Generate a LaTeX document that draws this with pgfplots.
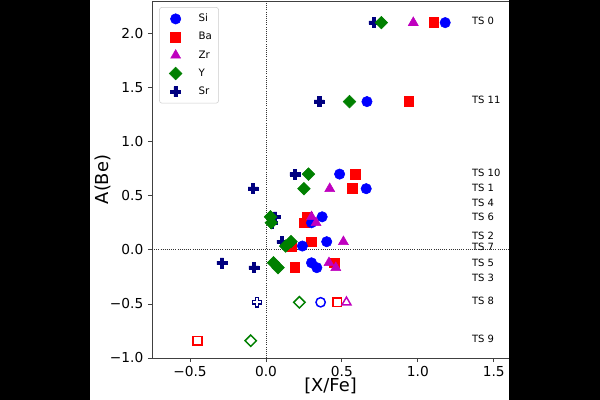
\documentclass[border=0pt]{standalone}
\usepackage{fontspec}
\setmainfont{DejaVu Sans}
\usepackage{pgfplots}
\pgfplotsset{compat=1.18}
\definecolor{siblue}{RGB}{0,0,255}
\definecolor{bared}{RGB}{255,0,0}
\definecolor{zrmag}{RGB}{191,0,191}
\definecolor{ygreen}{RGB}{0,128,0}
\definecolor{srnavy}{RGB}{0,0,128}
\pgfdeclareplotmark{fatplus}{%
  \pgfpathmoveto{\pgfqpoint{-0.34\pgfplotmarksize}{\pgfplotmarksize}}%
  \pgfpathlineto{\pgfqpoint{0.34\pgfplotmarksize}{\pgfplotmarksize}}%
  \pgfpathlineto{\pgfqpoint{0.34\pgfplotmarksize}{0.34\pgfplotmarksize}}%
  \pgfpathlineto{\pgfqpoint{\pgfplotmarksize}{0.34\pgfplotmarksize}}%
  \pgfpathlineto{\pgfqpoint{\pgfplotmarksize}{-0.34\pgfplotmarksize}}%
  \pgfpathlineto{\pgfqpoint{0.34\pgfplotmarksize}{-0.34\pgfplotmarksize}}%
  \pgfpathlineto{\pgfqpoint{0.34\pgfplotmarksize}{-\pgfplotmarksize}}%
  \pgfpathlineto{\pgfqpoint{-0.34\pgfplotmarksize}{-\pgfplotmarksize}}%
  \pgfpathlineto{\pgfqpoint{-0.34\pgfplotmarksize}{-0.34\pgfplotmarksize}}%
  \pgfpathlineto{\pgfqpoint{-\pgfplotmarksize}{-0.34\pgfplotmarksize}}%
  \pgfpathlineto{\pgfqpoint{-\pgfplotmarksize}{0.34\pgfplotmarksize}}%
  \pgfpathlineto{\pgfqpoint{-0.34\pgfplotmarksize}{0.34\pgfplotmarksize}}%
  \pgfpathclose
  \pgfusepathqfillstroke
}
\begin{document}
\begin{tikzpicture}
\fill[white] (-114pt,-31.5pt) rectangle (336pt,268.5pt);
\begin{axis}[
  at={(0pt,0pt)}, anchor=south west,
  scale only axis, width=267.75pt, height=267.75pt,
  xmin=-0.75, xmax=1.6, ymin=-1, ymax=2.3,
  axis line style={black!75, line width=0.6pt},
  tick style={black!75, line width=0.6pt},
  major tick length=3pt, tick align=outside,
  xtick pos=bottom, ytick pos=left,
  xtick={-0.5,0,0.5,1,1.5}, xticklabels={−0.5,0.0,0.5,1.0,1.5},
  ytick={-1,-0.5,0,0.5,1,1.5,2}, yticklabels={−1.0,−0.5,0.0,0.5,1.0,1.5,2.0},
  ticklabel style={font=\fontsize{10.3}{12}\selectfont},
  xlabel={[X/Fe]}, ylabel={A(Be)},
  label style={font=\fontsize{13.4}{16}\selectfont},
  xlabel style={yshift=6pt},
  ylabel style={yshift=-7.5pt},
  legend style={at={(0.02,0.983)}, anchor=north west, font=\fontsize{7.7}{9}\selectfont,
    draw=black!20, rounded corners=2pt, row sep=2.5pt, inner sep=3pt,
    /tikz/every odd column/.append style={column sep=5pt}},
  legend image code/.code={\path (0pt,0pt) (19pt,0pt); \draw[#1] plot coordinates {(9pt,0pt)};},
  legend cell align=left,
]
% dotted reference lines
\addplot[black!80, densely dotted, line width=0.6pt, forget plot] coordinates {(0,-1) (0,2.3)};
\addplot[black!80, densely dotted, line width=0.6pt, forget plot] coordinates {(-0.75,0) (1.6,0)};
% Ba filled
\addplot[only marks, forget plot, mark=square*, mark size=3.7pt, mark options={draw=bared, fill=bared, line width=0.4pt}] coordinates {
(1.105,2.10) (0.94,1.37) (0.59,0.70) (0.57,0.565) (0.27,0.305) (0.25,0.25)
(0.30,0.075) (0.17,0.035) (0.45,-0.12) (0.19,-0.165)};
% Si filled
\addplot[only marks, forget plot, mark=*, mark size=3.9pt, mark options={draw=siblue, fill=siblue, line width=0.4pt}] coordinates {
(1.18,2.10) (0.665,1.37) (0.485,0.70) (0.66,0.565) (0.37,0.305) (0.30,0.25)
(0.40,0.075) (0.24,0.035) (0.30,-0.12) (0.335,-0.165)};
% Zr filled
\addplot[only marks, forget plot, mark=triangle*, mark size=4.3pt, mark options={draw=zrmag, fill=zrmag, line width=0.4pt}] coordinates {
(0.97,2.10) (0.42,0.565) (0.30,0.305) (0.33,0.25) (0.51,0.075) (0.415,-0.12) (0.46,-0.165)};
% Sr filled
\addplot[only marks, forget plot, mark=fatplus, mark size=3.75pt, mark options={draw=srnavy, fill=srnavy, line width=0.4pt}] coordinates {
(0.71,2.10) (0.35,1.37) (0.19,0.70) (-0.085,0.565) (0.06,0.305) (0.04,0.25)
(0.105,0.075) (-0.29,-0.12) (-0.08,-0.165)};
% Y filled
\addplot[only marks, forget plot, mark=square*, mark size=3.36pt, mark options={rotate=45, draw=ygreen, fill=ygreen, line width=0.4pt}] coordinates {
(0.76,2.10) (0.55,1.37) (0.28,0.70) (0.25,0.565) (0.03,0.305) (0.035,0.25)
(0.165,0.075) (0.13,0.035) (0.05,-0.12) (0.08,-0.165)};
% open markers
\addplot[only marks, forget plot, mark=square*, mark size=3.3pt, mark options={draw=bared, fill=white, line width=1.1pt}] coordinates {(0.47,-0.485) (-0.45,-0.84)};
\addplot[only marks, forget plot, mark=*, mark size=3.5pt, mark options={draw=siblue, fill=white, line width=1.1pt}] coordinates {(0.36,-0.485)};
\addplot[only marks, forget plot, mark=triangle*, mark size=3.9pt, mark options={draw=zrmag, fill=white, line width=1.1pt}] coordinates {(0.53,-0.485)};
\addplot[only marks, forget plot, mark=fatplus, mark size=3.4pt, mark options={draw=srnavy, fill=white, line width=1.1pt}] coordinates {(-0.06,-0.485)};
\addplot[only marks, forget plot, mark=square*, mark size=3.0pt, mark options={rotate=45, draw=ygreen, fill=white, line width=1.1pt}] coordinates {(0.22,-0.485) (-0.10,-0.84)};
% legend
\addlegendimage{only marks, mark=*, mark size=3.9pt, mark options={draw=siblue, fill=siblue}}
\addlegendentry{Si}
\addlegendimage{only marks, mark=square*, mark size=3.7pt, mark options={draw=bared, fill=bared}}
\addlegendentry{Ba}
\addlegendimage{only marks, mark=triangle*, mark size=4.3pt, mark options={draw=zrmag, fill=zrmag}}
\addlegendentry{Zr}
\addlegendimage{only marks, mark=square*, mark size=3.36pt, mark options={rotate=45, draw=ygreen, fill=ygreen}}
\addlegendentry{Y}
\addlegendimage{only marks, mark=fatplus, mark size=3.75pt, mark options={draw=srnavy, fill=srnavy}}
\addlegendentry{Sr}
% star labels
\begin{scope}[every node/.style={anchor=west, font=\fontsize{7.5}{9}\selectfont, inner sep=0pt}]
\node at (axis cs:1.355,2.12) {TS 0};
\node at (axis cs:1.355,1.39) {TS 11};
\node at (axis cs:1.355,0.71) {TS 10};
\node at (axis cs:1.355,0.575) {TS 1};
\node at (axis cs:1.355,0.435) {TS 4};
\node at (axis cs:1.355,0.305) {TS 6};
\node at (axis cs:1.355,0.13) {TS 2};
\node at (axis cs:1.355,0.03) {TS 7};
\node at (axis cs:1.355,-0.12) {TS 5};
\node at (axis cs:1.355,-0.26) {TS 3};
\node at (axis cs:1.355,-0.47) {TS 8};
\node at (axis cs:1.355,-0.82) {TS 9};
\end{scope}
\end{axis}
\fill[black] (-114pt,-31.5pt) rectangle (-46.5pt,268.5pt);
\fill[black] (268pt,-31.5pt) rectangle (336pt,268.5pt);
\pgfresetboundingbox
\path (-114pt,-31.5pt) rectangle (336pt,268.5pt);
\end{tikzpicture}
\end{document}
